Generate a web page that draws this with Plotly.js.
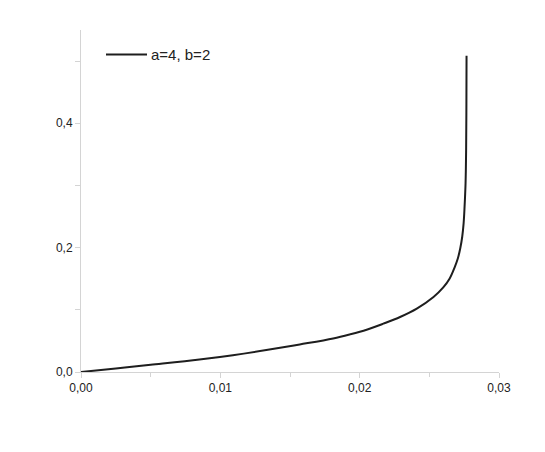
<!DOCTYPE html>
<html>
<head>
<meta charset="utf-8">
<script src="https://cdn.plot.ly/plotly-3.0.1.min.js"></script>
<style>html,body{margin:0;padding:0;background:#fff;}#chart{width:545px;height:452px;}</style>
</head>
<body>
<div id="chart"></div>
<script>
const seriesName = "a=4, b=2";
const xValues = [0, 0.0025, 0.005, 0.0085, 0.0109, 0.0133, 0.0157, 0.0181, 0.0193, 0.0205, 0.0217, 0.0229, 0.0241, 0.0253, 0.0260, 0.02645, 0.02681, 0.02705, 0.02722, 0.02736, 0.02746, 0.02753, 0.02760, 0.02764, 0.02766, 0.02767];
const yValues = [0, 0.0056, 0.0115, 0.0200, 0.0270, 0.0352, 0.0443, 0.0540, 0.0605, 0.0680, 0.0777, 0.0884, 0.1019, 0.1206, 0.1360, 0.1500, 0.1680, 0.1830, 0.1990, 0.2175, 0.2390, 0.2660, 0.3035, 0.3570, 0.4300, 0.5085];

const axisColor = "#d4d4d4";
const fontFam = "Liberation Sans, Arial, sans-serif";

const trace = {
  x: xValues, y: yValues, type: "scatter", mode: "lines",
  name: seriesName,
  line: {color: "#1e1e1e", width: 2, shape: "spline", smoothing: 1},
  showlegend: false, hoverinfo: "skip"
};

const layout = {
  width: 545, height: 452,
  margin: {l: 81, r: 46, t: 30, b: 80},
  paper_bgcolor: "#fff", plot_bgcolor: "#fff",
  separators: ",.",
  font: {family: fontFam, size: 12, color: "#222"},
  xaxis: {
    range: [0, 0.03], dtick: 0.01, tick0: 0, tickformat: ".2f",
    showgrid: false, zeroline: false, showline: true, linecolor: axisColor, linewidth: 1,
    ticks: "outside", ticklen: 5, tickcolor: axisColor,
    minor: {dtick: 0.005, ticks: "outside", ticklen: 4, tickcolor: axisColor, showgrid: false},
    tickfont: {family: fontFam, size: 12, color: "#222"}
  },
  yaxis: {
    range: [0, 0.55], dtick: 0.2, tick0: 0, tickformat: ".1f",
    showgrid: false, zeroline: false, showline: true, linecolor: axisColor, linewidth: 1,
    ticks: "outside", ticklen: 5, tickcolor: axisColor,
    minor: {dtick: 0.1, ticks: "outside", ticklen: 5, tickcolor: axisColor, showgrid: false},
    tickfont: {family: fontFam, size: 12, color: "#222"}
  },
  shapes: [{
    type: "line", xref: "paper", yref: "paper",
    x0: (106 - 81) / 418, x1: (147 - 81) / 418,
    y0: (372 - 54.5) / 342, y1: (372 - 54.5) / 342,
    line: {color: "#1e1e1e", width: 2}
  }],
  annotations: [{
    xref: "paper", yref: "paper",
    x: (149 - 81) / 418, y: (372 - 55) / 342,
    xanchor: "left", yanchor: "middle", showarrow: false,
    text: seriesName,
    font: {family: fontFam, size: 15, color: "#222"}
  }]
};

Plotly.newPlot("chart", [trace], layout, {staticPlot: true, displayModeBar: false});
</script>
</body>
</html>
